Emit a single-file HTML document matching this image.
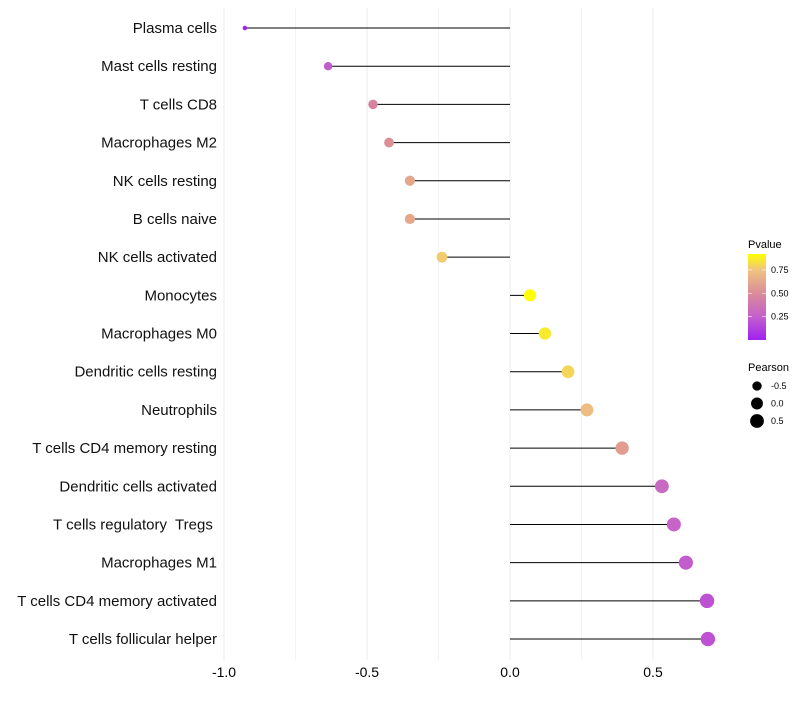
<!DOCTYPE html>
<html><head><meta charset="utf-8"><style>
body{margin:0;background:#fff;font-family:"Liberation Sans",sans-serif}
</style></head><body>
<svg id="c" width="800" height="700" xmlns="http://www.w3.org/2000/svg"></svg>
<script>
const categories=["Plasma cells","Mast cells resting","T cells CD8","Macrophages M2","NK cells resting","B cells naive","NK cells activated","Monocytes","Macrophages M0","Dendritic cells resting","Neutrophils","T cells CD4 memory resting","Dendritic cells activated","T cells regulatory  Tregs ","Macrophages M1","T cells CD4 memory activated","T cells follicular helper"];
const pearson=[-0.927,-0.636,-0.479,-0.423,-0.35,-0.35,-0.238,0.07,0.122,0.203,0.269,0.392,0.531,0.573,0.615,0.689,0.692];
const pvalue=[0.01,0.24,0.45,0.52,0.62,0.62,0.77,0.92,0.86,0.8,0.72,0.58,0.3,0.27,0.24,0.2,0.2];
const xTicks=[-1.0,-0.5,0.0,0.5];
const xTickLabels=["-1.0","-0.5","0.0","0.5"];
const pTicks=[0.25,0.5,0.75];
const sizeLegend=[-0.5,0.0,0.5];
const NS="http://www.w3.org/2000/svg",svg=document.getElementById('c');
const X=v=>510+v*286, Y=i=>28+i*38.19;
const R=v=>2+5.2*Math.sqrt(Math.max(0,(v+0.93)/1.62));
function mk(t,a,p){const e=document.createElementNS(NS,t);for(const k in a)e.setAttribute(k,a[k]);(p||svg).appendChild(e);return e;}
const stops=[[0,[160,32,240]],[0.25,[196,96,204]],[0.5,[218,140,152]],[0.75,[240,196,128]],[0.92,[255,255,0]]];
function col(p){p=Math.min(0.92,Math.max(0,p));
for(let i=0;i<stops.length-1;i++){const[a,ca]=stops[i],[b,cb]=stops[i+1];if(p<=b){const t=(p-a)/(b-a);return`rgb(${ca.map((c,j)=>Math.round(c+(cb[j]-c)*t)).join(',')})`;}}}
for(let v=-1;v<=0.51;v+=0.25){const g=mk('line',{x1:X(v),x2:X(v),y1:8,y2:660,stroke:'#ebebeb','stroke-width':Math.abs(v*2-Math.round(v*2))<1e-6?1:0.6});
}
xTicks.forEach((v,i)=>{const t=mk('text',{x:X(v),y:677,'text-anchor':'middle','font-size':14,fill:'#000'});t.textContent=xTickLabels[i];
});
categories.forEach((c,i)=>{const y=Y(i),v=pearson[i];
const t=mk('text',{x:217,y:y+5,'text-anchor':'end','font-size':15,fill:'#111','xml:space':'preserve',style:'white-space:pre'});t.textContent=c;

const l=mk('line',{x1:X(0),x2:X(v),y1:y,y2:y,stroke:'#000','stroke-width':1});

const d=mk('circle',{cx:X(v),cy:y,r:R(v),fill:col(pvalue[i])});
});
const lt=mk('text',{x:748,y:248,'font-size':11});lt.textContent='Pvalue';

const defs=mk('defs',{});const gr=mk('linearGradient',{id:'g',x1:0,y1:1,x2:0,y2:0},defs);
stops.forEach(([p])=>mk('stop',{offset:p/0.92,'stop-color':col(p)},gr));
const bar=mk('rect',{x:748,y:254,width:18,height:86,fill:'url(#g)'});

const pY=p=>340-(p/0.92)*86;
pTicks.forEach(p=>{mk('line',{x1:748,x2:752,y1:pY(p),y2:pY(p),stroke:'#fff','stroke-width':0.6});mk('line',{x1:762,x2:766,y1:pY(p),y2:pY(p),stroke:'#fff','stroke-width':0.6});
const t=mk('text',{x:771,y:pY(p)+3,'font-size':9});t.textContent=p.toFixed(2);
});
const st=mk('text',{x:748,y:371,'font-size':11});st.textContent='Pearson';

sizeLegend.forEach((v,i)=>{const y=386+i*17.5;const c=mk('circle',{cx:757,cy:y,r:R(v),fill:'#000'});

const t=mk('text',{x:771,y:y+3,'font-size':9});t.textContent=v.toFixed(1);
});
</script>
</body></html>
